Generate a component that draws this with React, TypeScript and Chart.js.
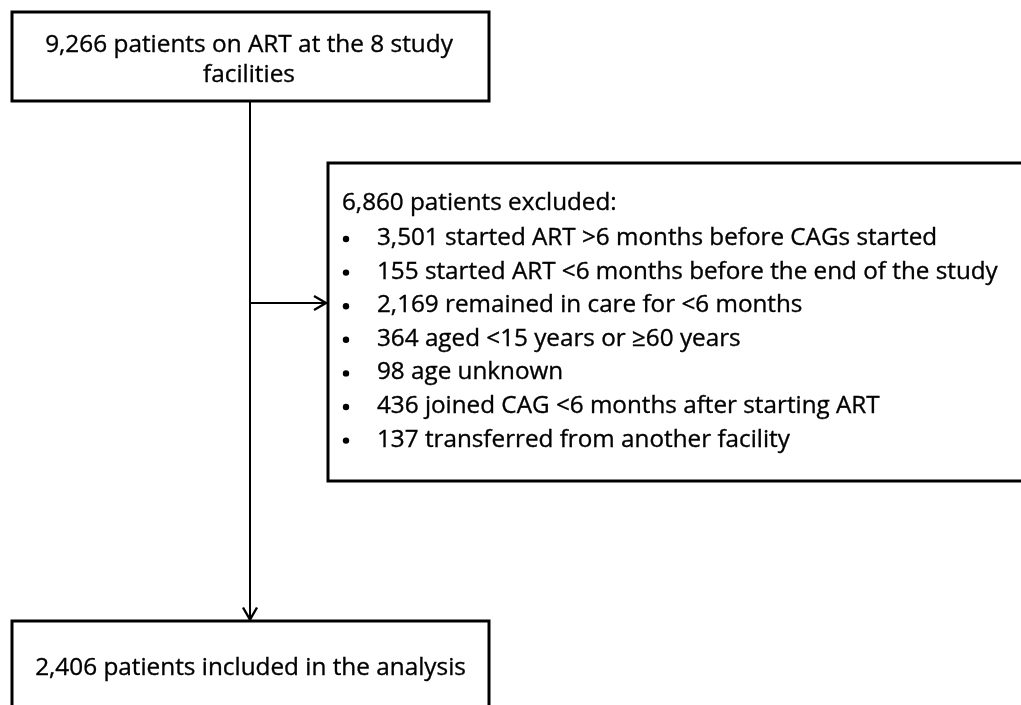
import React, { useEffect, useRef } from "react";
import { Chart, registerables } from "chart.js";

Chart.register(...registerables);

// ---- Data (flow counts and labels) ----
const TOTAL_PATIENTS = 9266;
const STUDY_FACILITIES = 8;
const EXCLUDED_TOTAL = 6860;
const INCLUDED_TOTAL = 2406;
const EXCLUDED_COUNTS = [3501, 155, 2169, 364, 98, 436, 137];
const EXCLUDED_REASONS = [
  "started ART >6 months before CAGs started",
  "started ART <6 months before the end of the study",
  "remained in care for <6 months",
  "aged <15 years or \u226560 years",
  "age unknown",
  "joined CAG <6 months after starting ART",
  "transferred from another facility",
];

const fmt = (n: number) => n.toLocaleString("en-US");

const TOP_LINES = [
  `${fmt(TOTAL_PATIENTS)} patients on ART at the ${STUDY_FACILITIES} study`,
  "facilities",
];
const EXCL_HEADER = `${fmt(EXCLUDED_TOTAL)} patients excluded:`;
const EXCL_ITEMS = EXCLUDED_COUNTS.map((c, i) => `${fmt(c)} ${EXCLUDED_REASONS[i]}`);
const INCL_LINE = `${fmt(INCLUDED_TOTAL)} patients included in the analysis`;

// ---- Layout (in scale units = page pixels) ----
const W = 1021;
const H = 705;
const FONT = "'Open Sans', Lato, sans-serif";
const LAYOUT = {
  top: { x0: 12, y0: 12, x1: 489, y1: 101 },
  right: { x0: 328, y0: 163, x1: 1040, y1: 481 },
  bottom: { x0: 12, y0: 621, x1: 489, y1: 740 },
  stemX: 250,
  branchY: 303,
};

const flowPlugin = {
  id: "flowchart",
  afterDraw(chart: any) {
    const ctx: CanvasRenderingContext2D = chart.ctx;
    const xs = chart.scales.x;
    const ys = chart.scales.y;
    const X = (v: number) => xs.getPixelForValue(v);
    const Y = (v: number) => ys.getPixelForValue(v);

    const fit = (text: string, target: number) => {
      ctx.font = `100px ${FONT}`;
      const w = ctx.measureText(text).width;
      return (100 * target) / w;
    };
    const txt = (t: string, x: number, y: number) => {
      ctx.fillText(t, x, y);
      ctx.strokeText(t, x, y);
    };

    ctx.save();
    ctx.fillStyle = "#ffffff";
    ctx.fillRect(0, 0, chart.width, chart.height);

    // boxes
    ctx.strokeStyle = "#000";
    ctx.lineWidth = 3;
    for (const b of [LAYOUT.top, LAYOUT.right, LAYOUT.bottom]) {
      ctx.strokeRect(X(b.x0), Y(b.y0), X(b.x1) - X(b.x0), Y(b.y1) - Y(b.y0));
    }

    // connectors
    ctx.lineWidth = 2;
    ctx.beginPath();
    ctx.moveTo(X(LAYOUT.stemX), Y(LAYOUT.top.y1));
    ctx.lineTo(X(LAYOUT.stemX), Y(LAYOUT.bottom.y0) - 1);
    ctx.moveTo(X(LAYOUT.stemX), Y(LAYOUT.branchY));
    ctx.lineTo(X(LAYOUT.right.x0) - 1, Y(LAYOUT.branchY));
    ctx.stroke();
    // arrow heads
    ctx.lineWidth = 2.4;
    ctx.beginPath();
    const bx = X(LAYOUT.stemX), by = Y(LAYOUT.bottom.y0) - 1.5;
    ctx.moveTo(bx - 7, by - 12);
    ctx.lineTo(bx, by);
    ctx.lineTo(bx + 7, by - 12);
    const rx = X(LAYOUT.right.x0) - 2, ry = Y(LAYOUT.branchY);
    ctx.moveTo(rx - 12, ry - 7);
    ctx.lineTo(rx, ry);
    ctx.lineTo(rx - 12, ry + 7);
    ctx.stroke();

    // text
    ctx.fillStyle = "#000";
    ctx.strokeStyle = "#000";
    ctx.lineWidth = 0.35;
    ctx.textBaseline = "middle";
    const topSize = fit(TOP_LINES[0], 408);
    ctx.font = `${topSize}px ${FONT}`;
    ctx.textAlign = "center";
    const cx = X(249);
    txt(TOP_LINES[0], cx, Y(45));
    txt(TOP_LINES[1], cx, Y(75));

    const botSize = fit(INCL_LINE, 431);
    ctx.font = `${botSize}px ${FONT}`;
    txt(INCL_LINE, X(250.5), Y(668));

    const rSize = fit(EXCL_ITEMS[1], 621);
    ctx.font = `${rSize}px ${FONT}`;
    ctx.textAlign = "left";
    txt(EXCL_HEADER, X(342), Y(203));
    EXCL_ITEMS.forEach((t, i) => {
      const y = Y(238 + i * 33.6);
      ctx.beginPath();
      ctx.arc(X(346), y + 1, 3.2, 0, Math.PI * 2);
      ctx.fill();
      txt(t, X(377), y);
    });
    ctx.restore();
  },
};

export default function App() {
  const ref = useRef<HTMLCanvasElement | null>(null);
  useEffect(() => {
    document.body.style.margin = "0";
    const chart = new Chart(ref.current as HTMLCanvasElement, {
      type: "scatter",
      data: { datasets: [{ data: [] }] },
      options: {
        animation: false,
        responsive: false,
        maintainAspectRatio: false,
        layout: { padding: 0 },
        plugins: { legend: { display: false }, tooltip: { enabled: false } },
        scales: {
          x: { type: "linear", min: 0, max: W, display: false },
          y: { type: "linear", min: 0, max: H, reverse: true, display: false },
        },
      },
      plugins: [flowPlugin],
    });
    return () => chart.destroy();
  }, []);
  return (
    <div style={{ position: "fixed", left: 0, top: 0, width: W, height: H, background: "#fff" }}>
      <canvas ref={ref} width={W} height={H} style={{ width: W, height: H, display: "block" }} />
    </div>
  );
}
